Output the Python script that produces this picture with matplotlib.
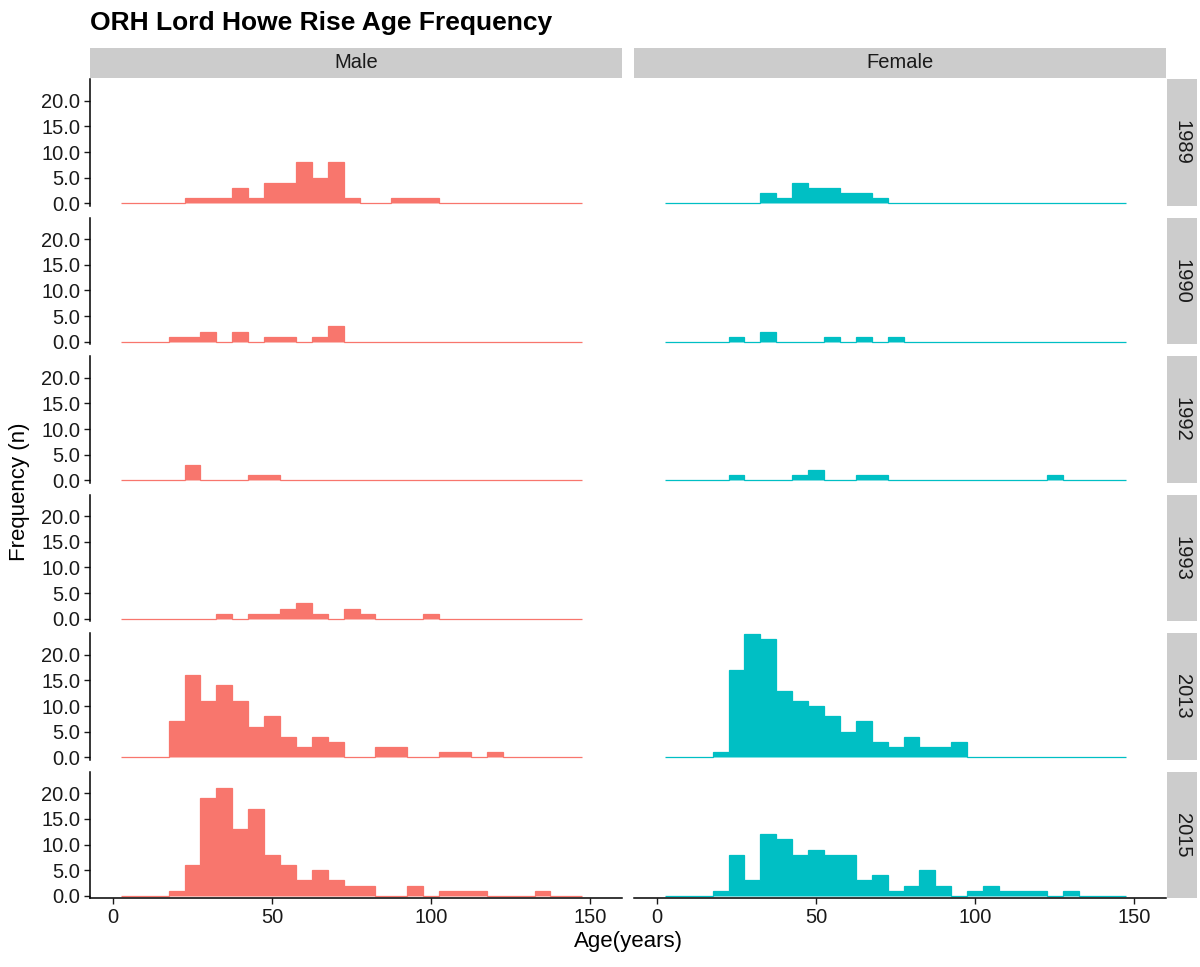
import numpy as np
import matplotlib
matplotlib.use('Agg')
import matplotlib.pyplot as plt

plt.rcParams['font.family'] = ['Liberation Sans', 'DejaVu Sans']

# 5-year age bins, 2.5 .. 147.5
bin_edges = np.arange(2.5, 147.6, 5.0)

years = ['1989', '1990', '1992', '1993', '2013', '2015']
sexes = ['Male', 'Female']

male_1989 = [0, 0, 0, 0, 1, 1, 1, 3, 1, 4, 4, 8, 5, 8, 1, 0, 0, 1, 1, 1, 0, 0, 0, 0, 0, 0, 0, 0, 0]
male_1990 = [0, 0, 0, 1, 1, 2, 0, 2, 0, 1, 1, 0, 1, 3, 0, 0, 0, 0, 0, 0, 0, 0, 0, 0, 0, 0, 0, 0, 0]
male_1992 = [0, 0, 0, 0, 3, 0, 0, 0, 1, 1, 0, 0, 0, 0, 0, 0, 0, 0, 0, 0, 0, 0, 0, 0, 0, 0, 0, 0, 0]
male_1993 = [0, 0, 0, 0, 0, 0, 1, 0, 1, 1, 2, 3, 1, 0, 2, 1, 0, 0, 0, 1, 0, 0, 0, 0, 0, 0, 0, 0, 0]
male_2013 = [0, 0, 0, 7, 16, 11, 14, 11, 6, 8, 4, 2, 4, 3, 0, 0, 2, 2, 0, 0, 1, 1, 0, 1, 0, 0, 0, 0, 0]
male_2015 = [0, 0, 0, 1, 6, 19, 21, 13, 17, 8, 6, 3, 5, 3, 2, 2, 0, 0, 2, 0, 1, 1, 1, 0, 0, 0, 1, 0, 0]

female_1989 = [0, 0, 0, 0, 0, 0, 2, 1, 4, 3, 3, 2, 2, 1, 0, 0, 0, 0, 0, 0, 0, 0, 0, 0, 0, 0, 0, 0, 0]
female_1990 = [0, 0, 0, 0, 1, 0, 2, 0, 0, 0, 1, 0, 1, 0, 1, 0, 0, 0, 0, 0, 0, 0, 0, 0, 0, 0, 0, 0, 0]
female_1992 = [0, 0, 0, 0, 1, 0, 0, 0, 1, 2, 0, 0, 1, 1, 0, 0, 0, 0, 0, 0, 0, 0, 0, 0, 1, 0, 0, 0, 0]
female_1993 = None  # no females sampled
female_2013 = [0, 0, 0, 1, 17, 24, 23, 13, 11, 10, 8, 5, 7, 3, 2, 4, 2, 2, 3, 0, 0, 0, 0, 0, 0, 0, 0, 0, 0]
female_2015 = [0, 0, 0, 1, 8, 3, 12, 11, 8, 9, 8, 8, 3, 4, 1, 2, 5, 2, 0, 1, 2, 1, 1, 1, 0, 1, 0, 0, 0]

male_counts = [male_1989, male_1990, male_1992, male_1993, male_2013, male_2015]
female_counts = [female_1989, female_1990, female_1992, female_1993, female_2013, female_2015]

colors = {'Male': '#F8766D', 'Female': '#00BFC4'}
y_ticks = [0, 5, 10, 15, 20]
x_ticks = [0, 50, 100, 150]

W, H = 1200, 967
fig = plt.figure(figsize=(W / 100, H / 100), dpi=100)

def px(x0, y0, x1, y1):
    # pixel box (top-left origin) -> figure fraction rect
    return [x0 / W, 1 - y1 / H, (x1 - x0) / W, (y1 - y0) / H]

col_x = [(90, 622), (634, 1166)]
ylo, yhi = -0.5, 24.2
unit = 5.13
row_pitch = 138.5
zero0 = 203.3

strip_col = '#CCCCCC'
tick_fs = 14.5
strip_fs = 14.5

for r, yr in enumerate(years):
    zero_y = zero0 + row_pitch * r
    top = zero_y - yhi * unit
    bot = zero_y - ylo * unit
    for c, sex in enumerate(sexes):
        x0, x1 = col_x[c]
        ax = fig.add_axes(px(x0, top, x1, bot))
        counts = male_counts[r] if sex == 'Male' else female_counts[r]
        if counts is not None:
            ax.stairs(counts, bin_edges, fill=True, facecolor=colors[sex],
                      edgecolor=colors[sex], linewidth=0.9)
        ax.set_xlim(-7.2, 160)
        ax.set_ylim(ylo, yhi)
        for s in ['top', 'right']:
            ax.spines[s].set_visible(False)
        ax.spines['left'].set_visible(c == 0)
        ax.spines['bottom'].set_visible(r == len(years) - 1)
        for s in ['left', 'bottom']:
            ax.spines[s].set_linewidth(1.1)
            ax.spines[s].set_color('black')
        if c == 0:
            ax.set_yticks(y_ticks)
            ax.set_yticklabels(['%.1f' % v for v in y_ticks])
            ax.tick_params(axis='y', length=4, width=1.0, colors='#1a1a1a',
                           labelsize=tick_fs, pad=3)
        else:
            ax.set_yticks([])
        if r == len(years) - 1:
            ax.set_xticks(x_ticks)
            ax.set_xticklabels([str(v) for v in x_ticks])
            ax.tick_params(axis='x', length=4, width=1.0, colors='#1a1a1a',
                           labelsize=tick_fs, pad=3)
        else:
            ax.set_xticks([])
        ax.patch.set_alpha(0)

        # top strips
        if r == 0:
            sax = fig.add_axes(px(x0, 48, x1, 78))
            sax.set_facecolor(strip_col)
            sax.set_xticks([]); sax.set_yticks([])
            for s in sax.spines.values():
                s.set_visible(False)
            sax.text(0.5, 0.5, sex, ha='center', va='center', fontsize=strip_fs,
                     color='#1a1a1a', transform=sax.transAxes)

    # right strips
    rax = fig.add_axes(px(1167, top, 1197, bot))
    rax.set_facecolor(strip_col)
    rax.set_xticks([]); rax.set_yticks([])
    for s in rax.spines.values():
        s.set_visible(False)
    rax.text(0.5, 0.5, yr, ha='center', va='center', rotation=-90, fontsize=strip_fs,
             color='#1a1a1a', transform=rax.transAxes)

fig.text(90 / W, 1 - 23 / H, 'ORH Lord Howe Rise Age Frequency', fontsize=19,
         fontweight='bold', ha='left', va='center')
fig.text(20 / W, 1 - 492 / H, 'Frequency (n)', fontsize=16, rotation=90,
         ha='center', va='center')
fig.text(628 / W, 1 - 942 / H, 'Age(years)', fontsize=16, ha='center', va='center')

fig.savefig('out.png', dpi=100)
